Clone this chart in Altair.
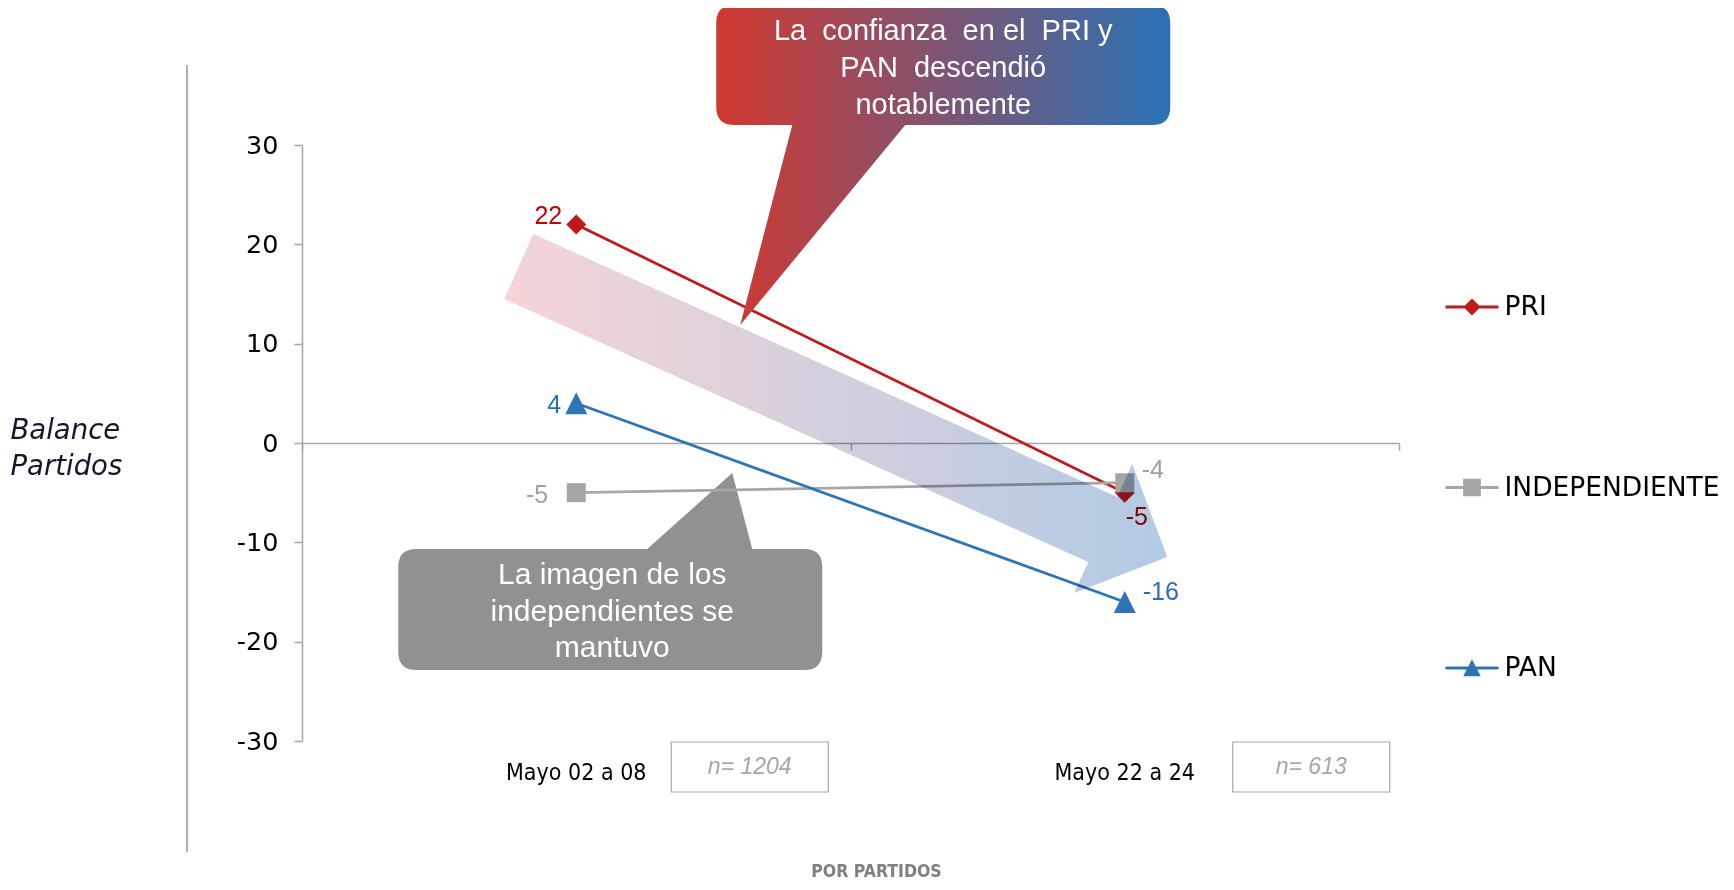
import altair as alt
import pandas as pd

# ---------------- data ----------------
periods = ["Mayo 02 a 08", "Mayo 22 a 24"]
series = ["PRI", "INDEPENDIENTE", "PAN"]
pri_values = [22, -5]
ind_values = [-5, -4]
pan_values = [4, -16]
sample_sizes = ["n= 1204", "n= 613"]
y_ticks = [-30, -20, -10, 0, 10, 20, 30]
NB = "\u00a0"
red_note = [f"La{NB} confianza{NB} en el{NB} PRI y", f"PAN{NB} descendió", "notablemente"]
gray_note = ["La imagen de los", "independientes se", "mantuvo"]

rows = []
for s, vals in zip(series, [pri_values, ind_values, pan_values]):
    for p, v in zip(periods, vals):
        rows.append({"series": s, "period": p, "value": v, "label": str(v)})
df = pd.DataFrame(rows)
ndf = pd.DataFrame({"period": periods, "n": sample_sizes})
anchor_df = pd.DataFrame({"period": [periods[0]]})

# ---------------- styles ----------------
line_colors = ["#C0191C", "#A6A6A6", "#2E75B6"]
label_colors = ["#C00000", "#A0A0A0", "#2A6EB5"]
marker_paths = [
    "M0,-10L10,0L0,10L-10,0Z",
    "M-9.5,-9.5H9.5V9.5H-9.5Z",
    "M0,-11L11,11L-11,11Z",
]
legend_paths = [
    "M-1,-0.057H1V0.057H-1Z M0,-0.32L0.32,0L0,0.32L-0.32,0Z",
    "M-1,-0.057H1V0.057H-1Z M-0.334,-0.334H0.334V0.334H-0.334Z",
    "M-1,-0.057H1V0.057H-1Z M0,-0.33L0.33,0.31L-0.33,0.31Z",
]
arrow_path = "M-43,-209L541,54L556,21L591,114L498,150L512,119L-72,-144Z"
red_callout_path = ("M158,-438H576Q594,-438 594,-420V-336Q594,-318 576,-318H329"
                    "L164,-118L216,-318H158Q140,-318 140,-336V-420Q140,-438 158,-438Z")
gray_callout_path = ("M-160,106H71L156,30L176,106H228Q246,106 246,124V209Q246,227 228,227"
                     "H-160Q-178,227 -178,209V124Q-178,106 -160,106Z")
box_path = "M-78.5,-25H78.5V25H-78.5Z"

SANS = "Liberation Sans"
COND = "Liberation Sans Narrow, DejaVu Sans Condensed, Liberation Sans"

xscale = alt.Scale(domain=periods, paddingInner=0, paddingOuter=0)
yscale = alt.Scale(domain=[-30, 30], nice=False, zero=False)

yax = alt.Axis(
    values=y_ticks, labelExpr="'' + datum.value", grid=False, orient="left",
    domainColor="#A6A6A6", domainWidth=1.5, tickColor="#A6A6A6", tickWidth=1.5,
    tickSize=8, labelFont="DejaVu Sans", labelFontSize=25.5, labelColor="#000000",
    labelPadding=16, title=["Balance", "Partidos"], titleFont="DejaVu Sans",
    titleFontStyle="italic", titleFontWeight="normal", titleFontSize=27.5,
    titleColor="#16162A", titleAngle=0, titleAlign="left", titleBaseline="middle",
    titleX=-292, titleY=285, titleLineHeight=36,
)
zero_axis = alt.Axis(
    orient="bottom", offset=-298, labels=False, title=None, grid=False,
    domainColor="#A6A6A6", domainWidth=1.5, tickColor="#A6A6A6", tickWidth=1.5,
    tickSize=7, tickBand="extent",
)
cat_axis = alt.Axis(
    orient="bottom", domain=False, ticks=False, tickSize=0, grid=False,
    labelFont=COND, labelFontSize=23, labelColor="#000000", labelPadding=31,
    labelBaseline="middle", labelAngle=0,
    title="POR PARTIDOS", titleFont=COND, titleFontWeight="bold", titleFontSize=17.5,
    titleColor="#808080", titleX=574, titleY=130, titleBaseline="middle",
)

X = alt.X("period:N", scale=xscale, axis=None)
Y = alt.Y("value:Q", scale=yscale, axis=yax)
AX = alt.X(datum=periods[0], type="nominal", scale=xscale, axis=None)
AY = alt.Y(datum=0, type="quantitative", scale=yscale, axis=yax)

base = alt.Chart(df)
anchor = alt.Chart(anchor_df)

left_rule = anchor.mark_rule(color="#B0B0B0", strokeWidth=2).encode(
    x=alt.value(-115), y=alt.value(-80), y2=alt.value(707)
)

gray_callout = anchor.mark_point(
    shape=gray_callout_path, size=4, filled=True, fill="#919191",
    strokeWidth=0, opacity=1
).encode(x=AX, y=AY)

lines = base.mark_line(strokeWidth=2.75).encode(
    x=alt.X("period:N", scale=xscale, axis=zero_axis),
    y=Y,
    color=alt.Color("series:N", scale=alt.Scale(domain=series, range=line_colors), legend=None),
    detail="series:N",
)

points = base.mark_point(filled=True, size=4, opacity=1, strokeWidth=0).encode(
    x=alt.X("period:N", scale=xscale, axis=cat_axis, title="POR PARTIDOS"),
    y=Y,
    color=alt.Color("series:N", scale=alt.Scale(domain=series, range=line_colors), legend=None),
    shape=alt.Shape("series:N", scale=alt.Scale(domain=series, range=marker_paths), legend=None),
)

label_style = {
    ("PRI", 0): ("right", -14, -8),
    ("PRI", 1): ("center", 12, 24),
    ("INDEPENDIENTE", 0): ("right", -28, 2),
    ("INDEPENDIENTE", 1): ("left", 17, -13),
    ("PAN", 0): ("right", -15, 2),
    ("PAN", 1): ("left", 18, -10),
}
label_layers = []
for (s, i), (al, dx, dy) in label_style.items():
    label_layers.append(
        base.transform_filter((alt.datum.series == s) & (alt.datum.period == periods[i]))
        .mark_text(align=al, dx=dx, dy=dy, baseline="middle", font=SANS, fontSize=25)
        .encode(
            x=X, y=Y, text="label:N",
            color=alt.Color("series:N", scale=alt.Scale(domain=series, range=label_colors), legend=None),
        )
    )

arrow = anchor.mark_point(
    shape=arrow_path, size=4, filled=True, strokeWidth=0, opacity=1, blend="multiply",
    fill={"gradient": "linear", "x1": 0, "y1": 0, "x2": 1, "y2": 0,
          "stops": [{"offset": 0, "color": "#F5D4D6"}, {"offset": 1, "color": "#B2CAE4"}]},
).encode(x=AX, y=AY)

n_layers = []
for i, dxo in enumerate([173.5, 186.5]):
    sub = alt.Chart(ndf).transform_filter(alt.datum.period == periods[i])
    n_layers.append(
        sub.mark_point(shape=box_path, size=4, filled=False, fill="white", stroke="#A6A6A6",
                       strokeWidth=1.2, opacity=1, xOffset=dxo)
        .encode(x=X, y=alt.value(622))
    )
    n_layers.append(
        sub.mark_text(xOffset=dxo, font=SANS, fontStyle="italic", fontSize=23,
                      color="#A6A6A6", baseline="middle")
        .encode(x=X, y=alt.value(622), text="n:N")
    )

red_callout = anchor.mark_point(
    shape=red_callout_path, size=4, filled=True, strokeWidth=0, opacity=1,
    fill={"gradient": "linear", "x1": 0, "y1": 0, "x2": 1, "y2": 0,
          "stops": [{"offset": 0, "color": "#D2382F"}, {"offset": 1, "color": "#2A72B5"}]},
).encode(x=AX, y=AY)

red_text = anchor.mark_text(
    text=red_note, font=SANS, fontSize=29, color="white", dx=367, dy=-412,
    baseline="middle", align="center", lineHeight=37,
).encode(x=AX, y=AY)

gray_text = anchor.mark_text(
    text=gray_note, font=SANS, fontSize=30, color="white", dx=36, dy=132,
    baseline="middle", align="center", lineHeight=36.5,
).encode(x=AX, y=AY)

leg = alt.Legend(
    orient="none", legendX=1143.5, legendY=135.5, title=None, symbolSize=2809,
    labelFont="DejaVu Sans", labelFontSize=26.5, labelColor="#000000", labelOffset=6,
    labelLimit=400, rowPadding=140.5, symbolStrokeWidth=0, padding=0, symbolOpacity=1,
)
legend_layer = base.transform_filter("false").mark_point(
    filled=True, opacity=1, strokeWidth=0
).encode(
    color=alt.Color("series:N", scale=alt.Scale(domain=series, range=line_colors), legend=leg),
    shape=alt.Shape("series:N", scale=alt.Scale(domain=series, range=legend_paths), legend=leg),
)

chart = alt.layer(
    left_rule, gray_callout, lines, points, *label_layers, arrow, *n_layers,
    red_callout, red_text, gray_text, legend_layer,
).resolve_scale(
    color="independent", shape="independent"
).resolve_axis(
    x="independent"
).properties(
    width=1097, height=596,
    autosize=alt.AutoSizeParams(type="none"),
    padding={"left": 294, "top": 137, "right": 325, "bottom": 140},
).configure(
    background="white",
    view=alt.ViewConfig(stroke="transparent"),
)

chart.save("out.html", embed_options={"renderer": "svg", "actions": False})
